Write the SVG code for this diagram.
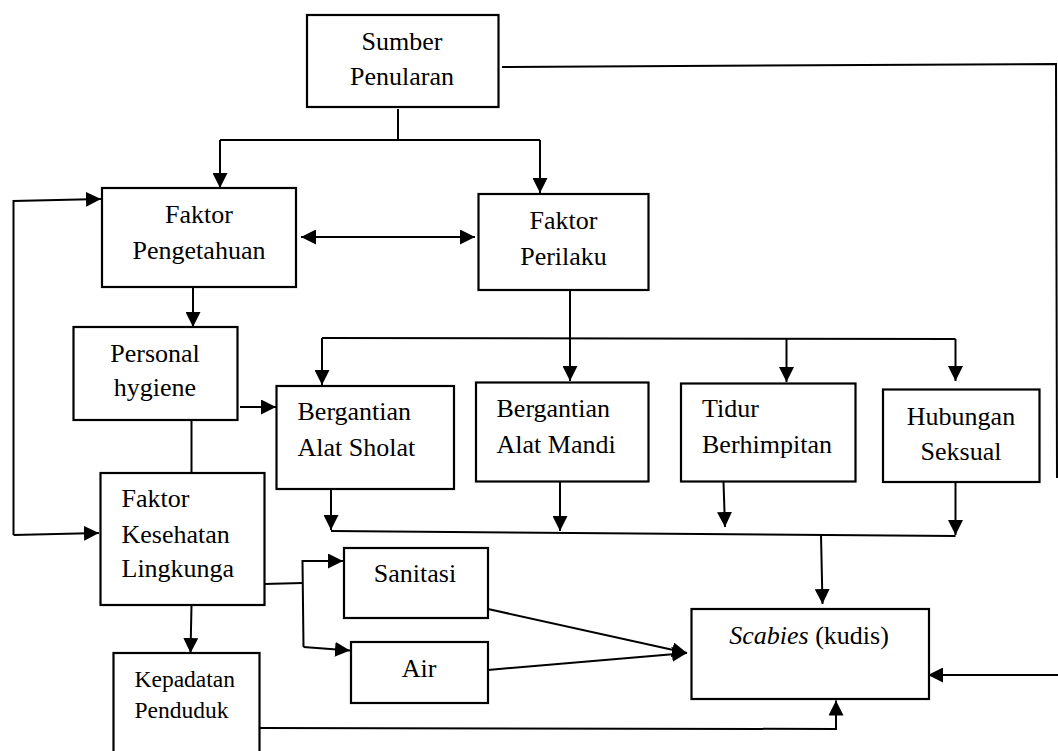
<svg xmlns="http://www.w3.org/2000/svg" width="1058" height="751" viewBox="0 0 1058 751">
<style>
.box{fill:#fff;stroke:#000;stroke-width:2.2}
.t{font-family:"Liberation Serif","Times New Roman",serif;font-size:26px;fill:#000}
.c{text-anchor:middle}
.s{font-size:23.5px}
.ln{fill:none;stroke:#000;stroke-width:2}
.ar{fill:none;stroke:#000;stroke-width:2;marker-end:url(#ah)}
</style>
<defs>
<marker id="ah" markerUnits="userSpaceOnUse" markerWidth="16" markerHeight="15" refX="15" refY="7.5" orient="auto-start-reverse" viewBox="0 0 16 15">
<path d="M0,0 L15,7.5 L0,15 z" fill="#000"/>
</marker>
</defs>
<rect width="1058" height="751" fill="#fff"/>

<g id="connectors">
<!-- Sumber split -->
<polyline class="ln" points="398,109 398,140"/>
<polyline class="ar" points="220,140 220,188"/>
<polyline class="ln" points="220,140 540,140"/>
<polyline class="ar" points="540,140 540,193"/>
<!-- Sumber to right loop -->
<polyline class="ln" points="502,67 1056,64 1057,478"/>
<line class="ar" x1="1058" y1="675" x2="928" y2="675"/>
<!-- double arrow -->
<line class="ar" x1="301" y1="237" x2="475" y2="237" style="marker-start:url(#ah)"/>
<!-- left loop -->
<polyline class="ar" points="13.5,535 13.5,201 101,199"/>
<polyline class="ar" points="13.5,535 99,533"/>
<!-- Pengetahuan to Personal -->
<line class="ar" x1="193" y1="287" x2="193" y2="327"/>
<!-- Personal to Sholat -->
<line class="ar" x1="240" y1="407" x2="276" y2="407"/>
<!-- Personal to Kesehatan -->
<line class="ln" x1="191.5" y1="420" x2="191.5" y2="473"/>
<!-- Kesehatan to Kepadatan -->
<line class="ar" x1="191.5" y1="605" x2="190.5" y2="653"/>
<!-- Kesehatan to Sanitasi/Air -->
<polyline class="ln" points="264,584 302.5,583"/>
<polyline class="ar" points="303.5,647 302.5,561 343,561"/>
<polyline class="ar" points="303.5,647 350,650.5"/>
<!-- Perilaku branch -->
<line class="ar" x1="570" y1="290" x2="570" y2="381"/>
<polyline class="ln" points="322,338 955.5,339"/>
<line class="ar" x1="322" y1="338" x2="322" y2="385"/>
<line class="ar" x1="786.5" y1="338.5" x2="786.5" y2="382"/>
<line class="ar" x1="955.5" y1="339" x2="955.5" y2="381"/>
<!-- bottom merge -->
<line class="ar" x1="331" y1="490" x2="331" y2="530"/>
<line class="ar" x1="560" y1="482" x2="560" y2="531"/>
<line class="ar" x1="723.5" y1="482" x2="725" y2="527"/>
<line class="ar" x1="955.5" y1="482" x2="955.5" y2="535"/>
<polyline class="ln" points="331,531 955.5,536"/>
<line class="ar" x1="821" y1="535" x2="822.5" y2="604"/>
<!-- Sanitasi / Air to Scabies -->
<line class="ar" x1="488" y1="609" x2="687" y2="653"/>
<line class="ar" x1="488" y1="670" x2="687" y2="653"/>
<!-- Kepadatan to Scabies -->
<polyline class="ar" points="259.5,728 836,729 836,700.5"/>
</g>

<g id="sumber">
<rect class="box" x="307" y="15" width="191.5" height="92"/>
<text class="t c" x="402" y="50">Sumber</text>
<text class="t c" x="402" y="85">Penularan</text>
</g>

<g id="pengetahuan">
<rect class="box" x="102" y="188" width="194" height="99"/>
<text class="t c" x="199" y="223">Faktor</text>
<text class="t c" x="199" y="259">Pengetahuan</text>
</g>

<g id="perilaku">
<rect class="box" x="478.5" y="194" width="170" height="96"/>
<text class="t c" x="563.5" y="229">Faktor</text>
<text class="t c" x="563.5" y="265">Perilaku</text>
</g>

<g id="personal">
<rect class="box" x="73.5" y="327" width="164" height="93"/>
<text class="t c" x="155" y="362">Personal</text>
<text class="t c" x="155" y="396">hygiene</text>
</g>

<g id="sholat">
<rect class="box" x="276.5" y="386" width="177.5" height="103"/>
<text class="t" x="297.5" y="420">Bergantian</text>
<text class="t" x="297.5" y="456">Alat Sholat</text>
</g>

<g id="mandi">
<rect class="box" x="476" y="382.5" width="172.5" height="99"/>
<text class="t" x="496.5" y="417">Bergantian</text>
<text class="t" x="496.5" y="452.5">Alat Mandi</text>
</g>

<g id="tidur">
<rect class="box" x="681" y="383.5" width="174.5" height="98"/>
<text class="t" x="702" y="417">Tidur</text>
<text class="t" x="702" y="453">Berhimpitan</text>
</g>

<g id="hubungan">
<rect class="box" x="883" y="389.5" width="156.5" height="92.5"/>
<text class="t c" x="961" y="425">Hubungan</text>
<text class="t c" x="961" y="460">Seksual</text>
</g>

<g id="kesehatan">
<rect class="box" x="100.5" y="473" width="164" height="132"/>
<text class="t" x="121.5" y="507">Faktor</text>
<text class="t" x="121.5" y="542.5">Kesehatan</text>
<text class="t" x="121.5" y="577">Lingkunga</text>
</g>

<g id="kepadatan">
<rect class="box" x="113.5" y="653" width="146" height="110"/>
<text class="t s" x="134.5" y="686.5">Kepadatan</text>
<text class="t s" x="134.5" y="718">Penduduk</text>
</g>

<g id="sanitasi">
<rect class="box" x="344" y="548" width="144" height="70"/>
<text class="t c" x="415" y="582">Sanitasi</text>
</g>

<g id="air">
<rect class="box" x="351" y="642" width="137" height="61"/>
<text class="t c" x="419" y="676.5">Air</text>
</g>

<g id="scabies">
<rect class="box" x="691.5" y="609" width="237.5" height="90"/>
<text class="t c" x="809" y="644"><tspan font-style="italic">Scabies</tspan> (kudis)</text>
</g>
</svg>
